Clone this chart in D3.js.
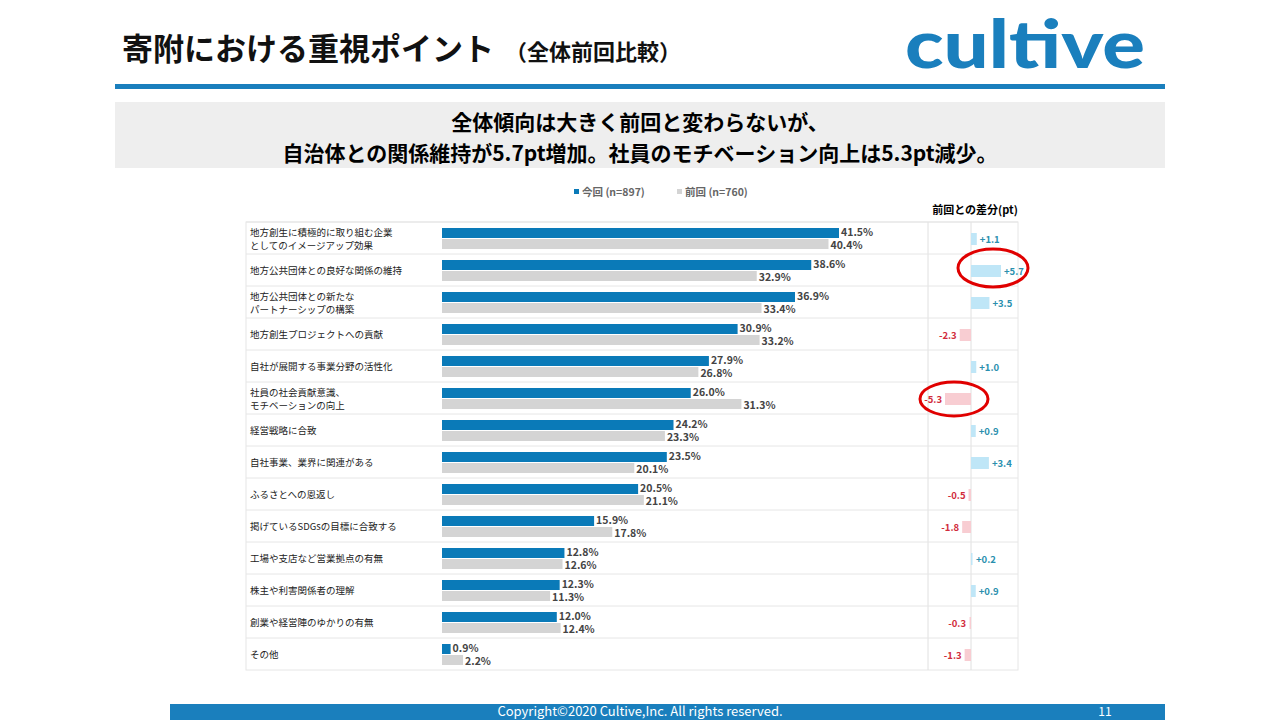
<!DOCTYPE html>
<html><head><meta charset="utf-8">
<script src="https://cdn.jsdelivr.net/npm/d3@7"></script>
<style>body{margin:0;background:#fff}svg{display:block;font-family:"Noto Sans CJK JP","Noto Sans",sans-serif}</style>
</head><body><svg id="c" width="1280" height="720"></svg>
<script>
const categories=[
 ["地方創生に積極的に取り組む企業","としてのイメージアップ効果"],
 ["地方公共団体との良好な関係の維持"],
 ["地方公共団体との新たな","パートナーシップの構築"],
 ["地方創生プロジェクトへの貢献"],
 ["自社が展開する事業分野の活性化"],
 ["社員の社会貢献意識、","モチベーションの向上"],
 ["経営戦略に合致"],
 ["自社事業、業界に関連がある"],
 ["ふるさとへの恩返し"],
 ["掲げているSDGsの目標に合致する"],
 ["工場や支店など営業拠点の有無"],
 ["株主や利害関係者の理解"],
 ["創業や経営陣のゆかりの有無"],
 ["その他"]];
const current=[41.5,38.6,36.9,30.9,27.9,26.0,24.2,23.5,20.5,15.9,12.8,12.3,12.0,0.9];
const previous=[40.4,32.9,33.4,33.2,26.8,31.3,23.3,20.1,21.1,17.8,12.6,11.3,12.4,2.2];
const diffs=[1.1,5.7,3.5,-2.3,1.0,-5.3,0.9,3.4,-0.5,-1.8,0.2,0.9,-0.3,-1.3];
const seriesNames=["今回 (n=897)","前回 (n=760)"];

const svg=d3.select("#c");
const BLUE="#0a7ab8",GREY="#d4d4d4";
svg.append("text").attr("x",122).attr("y",60).attr("font-size",31).attr("font-weight",700).attr("fill","#111").text("寄附における重視ポイント");
svg.append("text").attr("x",505).attr("y",60).attr("font-size",22).attr("font-weight",700).attr("fill","#111").text("（全体前回比較）");
svg.append("text").attr("x",905).attr("y",68).attr("font-size",66).attr("font-weight",900).attr("fill","#1a7fbd").attr("font-family","Lato, sans-serif").attr("textLength",240).attr("lengthAdjust","spacingAndGlyphs").text("cultive");
svg.append("rect").attr("x",115).attr("y",84).attr("width",1050).attr("height",5).attr("fill","#1a7fbd");
svg.append("rect").attr("x",115).attr("y",102).attr("width",1050).attr("height",66).attr("fill","#eeeeee");
svg.append("text").attr("x",640).attr("y",130).attr("text-anchor","middle").attr("font-size",21).attr("font-weight",700).text("全体傾向は大きく前回と変わらないが、");
svg.append("text").attr("x",640).attr("y",161).attr("text-anchor","middle").attr("font-size",21).attr("font-weight",700).text("自治体との関係維持が5.7pt増加。社員のモチベーション向上は5.3pt減少。");
svg.append("rect").attr("x",170).attr("y",704).attr("width",995).attr("height",16).attr("fill","#1a7fbd");
svg.append("text").attr("x",640).attr("y",716).attr("text-anchor","middle").attr("font-size",13).attr("fill","#fff").text("Copyright©2020 Cultive,Inc. All rights reserved.");
svg.append("text").attr("x",1105).attr("y",716).attr("text-anchor","middle").attr("font-size",12).attr("fill","#fff").text("11");

const lg=[[574,BLUE,seriesNames[0]],[677,GREY,seriesNames[1]]];
lg.forEach(([x,c,t])=>{svg.append("rect").attr("x",x).attr("y",189).attr("width",5).attr("height",5).attr("fill",c);
 svg.append("text").attr("x",x+8).attr("y",196).attr("font-size",10.5).attr("font-weight",700).attr("fill","#666").text(t);});
svg.append("text").attr("x",975).attr("y",214).attr("text-anchor","middle").attr("font-size",11).attr("font-weight",700).text("前回との差分(pt)");

const y=d3.scaleBand().domain(d3.range(categories.length)).range([222,670]);
const x=d3.scaleLinear().domain([0,41.5]).range([442,839]);
const xd=d3.scaleLinear().domain([-5.3,0,5.7]).range([945,971,1001]);
svg.append("rect").attr("x",246).attr("y",222).attr("width",772).attr("height",448).attr("fill","none").attr("stroke","#e6e6e6");
svg.append("line").attr("x1",928).attr("x2",928).attr("y1",222).attr("y2",670).attr("stroke","#e0e0e0");
svg.append("line").attr("x1",971).attr("x2",971).attr("y1",222).attr("y2",670).attr("stroke","#e0e0e0");
const g=svg.selectAll("g.row").data(categories).join("g");
g.append("line").attr("x1",246).attr("x2",1018).attr("y1",(d,i)=>y(i)).attr("y2",(d,i)=>y(i)).attr("stroke","#e6e6e6");
g.each(function(lines,i){
 const s=d3.select(this),cy=y(i)+y.bandwidth()/2;
 lines.forEach((l,k)=>s.append("text").attr("x",250).attr("y",cy+4+(k-(lines.length-1)/2)*13).attr("font-size",9.5).attr("fill","#222").text(l));
 s.append("rect").attr("x",x(0)).attr("y",cy-10).attr("width",x(current[i])-x(0)).attr("height",10).attr("fill",BLUE);
 s.append("rect").attr("x",x(0)).attr("y",cy+1).attr("width",x(previous[i])-x(0)).attr("height",10).attr("fill",GREY);
 s.append("text").attr("x",x(current[i])+2).attr("y",cy-2).attr("font-size",10.5).attr("font-weight",700).attr("fill","#444").text(current[i].toFixed(1)+"%");
 s.append("text").attr("x",x(previous[i])+2).attr("y",cy+11).attr("font-size",10.5).attr("font-weight",700).attr("fill","#444").text(previous[i].toFixed(1)+"%");
 const d=diffs[i],pos=d>=0;
 s.append("rect").attr("x",Math.min(xd(0),xd(d))).attr("y",cy-5).attr("width",Math.max(1.5,Math.abs(xd(d)-xd(0)))).attr("height",12)
  .attr("fill",pos?"#bfe6f7":"#f8cdd2");
 s.append("text").attr("x",pos?Math.max(xd(d),xd(0)+2)+3:Math.min(xd(d),xd(0)-2)-3).attr("y",cy+5).attr("text-anchor",pos?"start":"end")
  .attr("font-size",9.5).attr("font-weight",700).attr("fill",pos?"#2a8fae":"#d12c3c").text((pos?"+":"")+d.toFixed(1));
});
svg.append("ellipse").attr("cx",993).attr("cy",268).attr("rx",35).attr("ry",19).attr("fill","none").attr("stroke","#e00000").attr("stroke-width",3);
svg.append("ellipse").attr("cx",954).attr("cy",399).attr("rx",34).attr("ry",17).attr("fill","none").attr("stroke","#e00000").attr("stroke-width",3);
</script></body></html>
